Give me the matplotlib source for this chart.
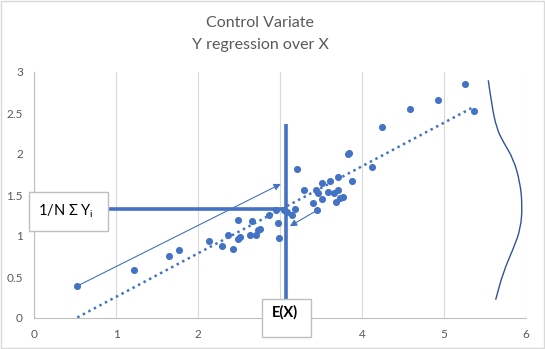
import numpy as np
import matplotlib
matplotlib.use("Agg")
import matplotlib.pyplot as plt
from matplotlib.patches import Rectangle
from matplotlib.path import Path
from matplotlib.patches import PathPatch

plt.rcParams['font.family'] = ['Lato', 'DejaVu Sans']

# scatter values
x_vals = [0.528, 1.220, 1.643, 1.772, 2.138, 2.287, 2.370, 2.430, 2.482, 2.482,
          2.515, 2.637, 2.662, 2.712, 2.726, 2.759, 2.860, 2.951, 2.979, 2.991,
          3.046, 3.091, 3.152, 3.189, 3.211, 3.287, 3.406, 3.435, 3.460, 3.509,
          3.448, 3.516, 3.613, 3.589, 3.662, 3.711, 3.711, 3.882, 3.841, 3.825,
          4.116, 3.683, 3.732, 3.765, 4.248, 4.589, 4.930, 5.260, 5.370]
y_vals = [0.390, 0.585, 0.760, 0.826, 0.945, 0.872, 1.009, 0.838, 1.191, 0.960,
          0.991, 1.009, 1.177, 1.009, 1.071, 1.082, 1.252, 1.311, 1.155, 0.972,
          1.311, 1.296, 1.254, 1.326, 1.823, 1.559, 1.399, 1.561, 1.521, 1.455,
          1.311, 1.643, 1.667, 1.533, 1.521, 1.561, 1.723, 1.674, 2.016, 2.000,
          1.838, 1.418, 1.460, 1.479, 2.326, 2.545, 2.655, 2.850, 2.521]

# density of Y drawn sideways on the right
curve_x = [5.540, 5.582, 5.643, 5.723, 5.845, 5.927, 5.955, 5.935, 5.845, 5.723, 5.630]
curve_y = [2.899, 2.594, 2.309, 2.146, 1.943, 1.659, 1.374, 1.089, 0.845, 0.561, 0.223]

E_X = 3.07
MEAN_Y = 1.325

x_ticks = [0, 1, 2, 3, 4, 5, 6]
y_ticks = [0, 0.5, 1, 1.5, 2, 2.5, 3]
y_ticklabels = ['0', '0.5', '1', '1.5', '2', '2.5', '3']

blue = '#4472C4'
grey = '#595959'

fig = plt.figure(figsize=(5.45, 3.49), dpi=100)
ax = fig.add_axes([34 / 545, 1 - 318 / 349, 492 / 545, 246 / 349])

ax.set_xlim(0, 6)
ax.set_ylim(0, 3)
ax.set_xticks(x_ticks)
ax.set_yticks(y_ticks)
ax.set_yticklabels(y_ticklabels)
ax.tick_params(length=0, labelsize=8.5, labelcolor=grey, pad=8)
ax.grid(axis='x', color='#D9D9D9', lw=0.8)
for s in ['top', 'right']:
    ax.spines[s].set_visible(False)
for s in ['left', 'bottom']:
    ax.spines[s].set_color('#BFBFBF')
    ax.spines[s].set_linewidth(0.8)

# regression line
xs = np.array(x_vals)
ys = np.array(y_vals)
b, a = np.polyfit(xs, ys, 1)
xl = np.array([xs.min(), xs.max()])
ax.plot(xl, a + b * xl, ls=(0, (1, 1.5)), color=blue, lw=1.8, zorder=2)

ax.scatter(xs, ys, s=26, color=blue, zorder=3, linewidths=0)

# sideways density curve
verts = [(curve_x[0], curve_y[0])]
codes = [Path.MOVETO]
for i in range(1, len(curve_x) - 1):
    mx = (curve_x[i] + curve_x[i + 1]) / 2
    my = (curve_y[i] + curve_y[i + 1]) / 2
    verts += [(curve_x[i], curve_y[i]), (mx, my)]
    codes += [Path.CURVE3, Path.CURVE3]
verts.append((curve_x[-1], curve_y[-1]))
codes.append(Path.LINETO)
ax.add_patch(PathPatch(Path(verts, codes), fill=False, ec='#2F5597', lw=1.0, zorder=2))

# arrows
ax.annotate('', xy=(3.01, 1.635), xytext=(x_vals[0], y_vals[0]),
            arrowprops=dict(arrowstyle='-|>', color=blue, lw=0.8,
                            mutation_scale=10, shrinkA=0, shrinkB=0), zorder=3)
ax.annotate('', xy=(3.12, 1.12), xytext=(3.448, 1.311),
            arrowprops=dict(arrowstyle='-|>', color=blue, lw=0.8,
                            mutation_scale=10, shrinkA=0, shrinkB=0), zorder=3)

# thick lines at E(X) and mean Y
ax.plot([0.906, E_X], [MEAN_Y, MEAN_Y], color=blue, lw=2.6, zorder=4,
        solid_capstyle='butt')
ax.plot([E_X, E_X], [0.228, 2.36], color=blue, lw=2.6, zorder=4,
        solid_capstyle='butt', clip_on=False)

# text boxes
ax.add_patch(Rectangle((-0.061, 1.065), 0.967, 0.468, fc='white', ec='#BFBFBF',
                       lw=1.0, clip_on=False, zorder=6))
ax.text(0.05, 1.30, r'1/N Σ Y$_\mathregular{i}$', fontsize=10.5, color='black',
        va='center', ha='left', zorder=7, clip_on=False)
ax.add_patch(Rectangle((2.777, -0.228), 0.597, 0.456, fc='white', ec='#BFBFBF',
                       lw=1.0, clip_on=False, zorder=6))
ax.text(2.9, 0.065, 'E(X)', fontsize=10.5, fontweight='bold', color='black',
        va='center', ha='left', zorder=7, clip_on=False)

fig.text(260 / 545, 1 - 23 / 349, 'Control Variate', ha='center', va='center',
         fontsize=11.5, color=grey)
fig.text(260 / 545, 1 - 45 / 349, 'Y regression over X', ha='center', va='center',
         fontsize=11.5, color=grey)

fig.patches.append(Rectangle((0.002, 0.003), 0.996, 0.994, transform=fig.transFigure,
                             fill=False, ec='#D9D9D9', lw=1.0))

fig.savefig('out.png', dpi=100)
